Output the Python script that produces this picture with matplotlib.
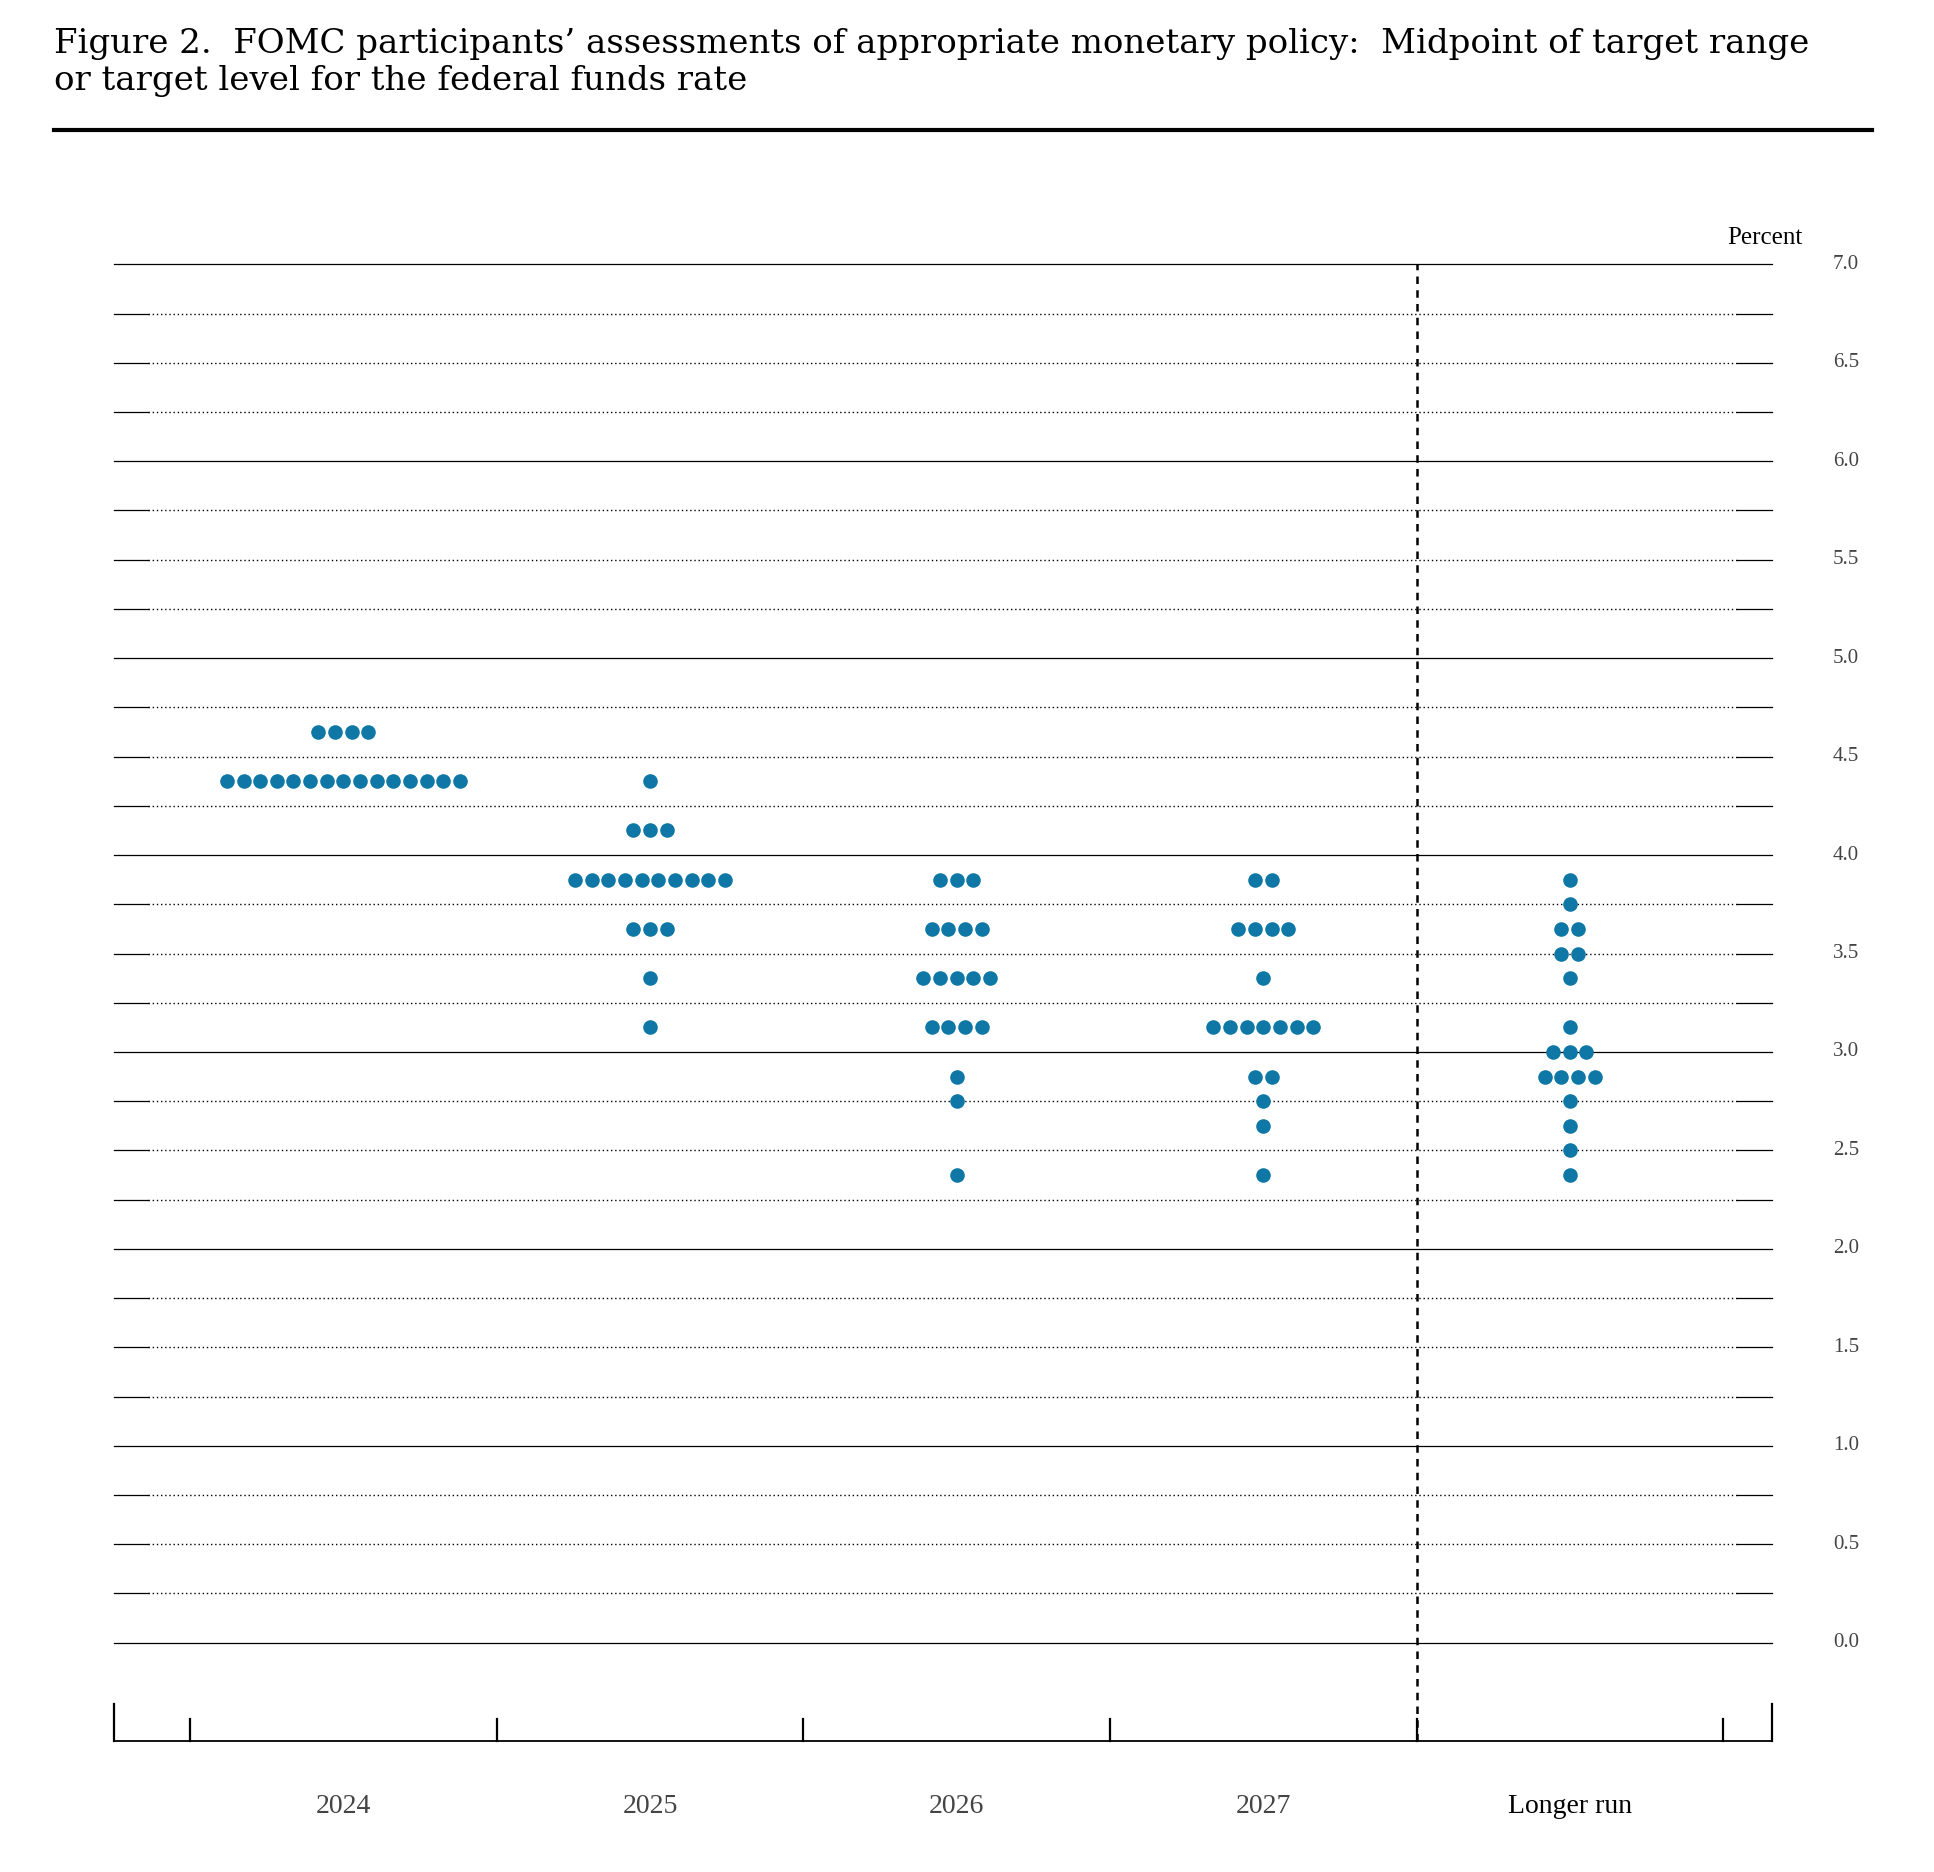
import matplotlib
matplotlib.use("Agg")
import matplotlib.pyplot as plt
import numpy as np

categories = ["2024", "2025", "2026", "2027", "Longer run"]
# (rate, count) per category
dots_2024 = [(4.625, 4), (4.375, 15)]
dots_2025 = [(4.375, 1), (4.125, 3), (3.875, 10), (3.625, 3), (3.375, 1), (3.125, 1)]
dots_2026 = [(3.875, 3), (3.625, 4), (3.375, 5), (3.125, 4), (2.875, 1), (2.75, 1), (2.375, 1)]
dots_2027 = [(3.875, 2), (3.625, 4), (3.375, 1), (3.125, 7), (2.875, 2), (2.75, 1), (2.625, 1), (2.375, 1)]
dots_lr = [(3.875, 1), (3.75, 1), (3.625, 2), (3.5, 2), (3.375, 1), (3.125, 1), (3.0, 3),
           (2.875, 4), (2.75, 1), (2.625, 1), (2.5, 1), (2.375, 1)]
all_dots = [dots_2024, dots_2025, dots_2026, dots_2027, dots_lr]
y_ticks = [0.0, 0.5, 1.0, 1.5, 2.0, 2.5, 3.0, 3.5, 4.0, 4.5, 5.0, 5.5, 6.0, 6.5, 7.0]

serif = "Liberation Serif"
fig = plt.figure(figsize=(19.34, 18.72), dpi=100)
ax = fig.add_axes([0.059, 0.0699, 0.857, 0.7889])
xl, xr = -0.748, 4.658
ax.set_xlim(xl, xr)
ax.set_ylim(-0.5, 7.0)
for s in ["top", "left", "right"]:
    ax.spines[s].set_visible(False)
ax.spines["bottom"].set_linewidth(1.3)
ax.set_xticks([]); ax.set_yticks([])

seg = 0.112
for k in range(29):
    y = k * 0.25
    if k % 4 == 0:
        ax.plot([xl, xr], [y, y], color="black", lw=0.9, clip_on=False)
    else:
        ax.plot([xl + seg, xr - seg], [y, y], color="black", lw=1.0, ls=(0, (1, 2)), clip_on=False)
        ax.plot([xl, xl + seg], [y, y], color="black", lw=0.9, clip_on=False)
        ax.plot([xr - seg, xr], [y, y], color="black", lw=0.9, clip_on=False)
for v in y_ticks:
    ax.text(xr + 0.2, v, f"{v:.1f}", fontsize=15, family=serif, color="#444444", va="center", ha="left")
ax.text(xr + 0.1, 7.08, "Percent", fontsize=18, family=serif, ha="right", va="bottom")

ax.axvline(3.5, ymin=0, ymax=1, color="black", lw=1.8, ls=(0, (3, 2.5)))
for t in np.arange(-0.5, 4.6, 1.0):
    ax.plot([t, t], [-0.5, -0.39], color="black", lw=1.6, clip_on=False)
for t in [xl, xr]:
    ax.plot([t, t], [-0.5, -0.31], color="black", lw=1.6, clip_on=False)

sp = 0.0543
for i, dots in enumerate(all_dots):
    for rate, n in dots:
        xs = i + (np.arange(n) - (n - 1) / 2) * sp
        ax.plot(xs, [rate] * n, "o", color="#0e77a5", ms=10.5, mew=0, clip_on=False)
    ax.text(i, -0.83, categories[i], ha="center", va="center", fontsize=20, family=serif,
            color="black" if i == 4 else "#444444")

fig.text(0.0277, 0.985, "Figure 2.  FOMC participants’ assessments of appropriate monetary policy:  Midpoint of target range\nor target level for the federal funds rate",
         fontsize=24.5, family="DejaVu Serif", va="top", ha="left", linespacing=1.2)
fig.add_artist(plt.Line2D([0.0277, 0.968], [0.9307, 0.9307], color="black", lw=3))
fig.savefig("out.png", dpi=100)
